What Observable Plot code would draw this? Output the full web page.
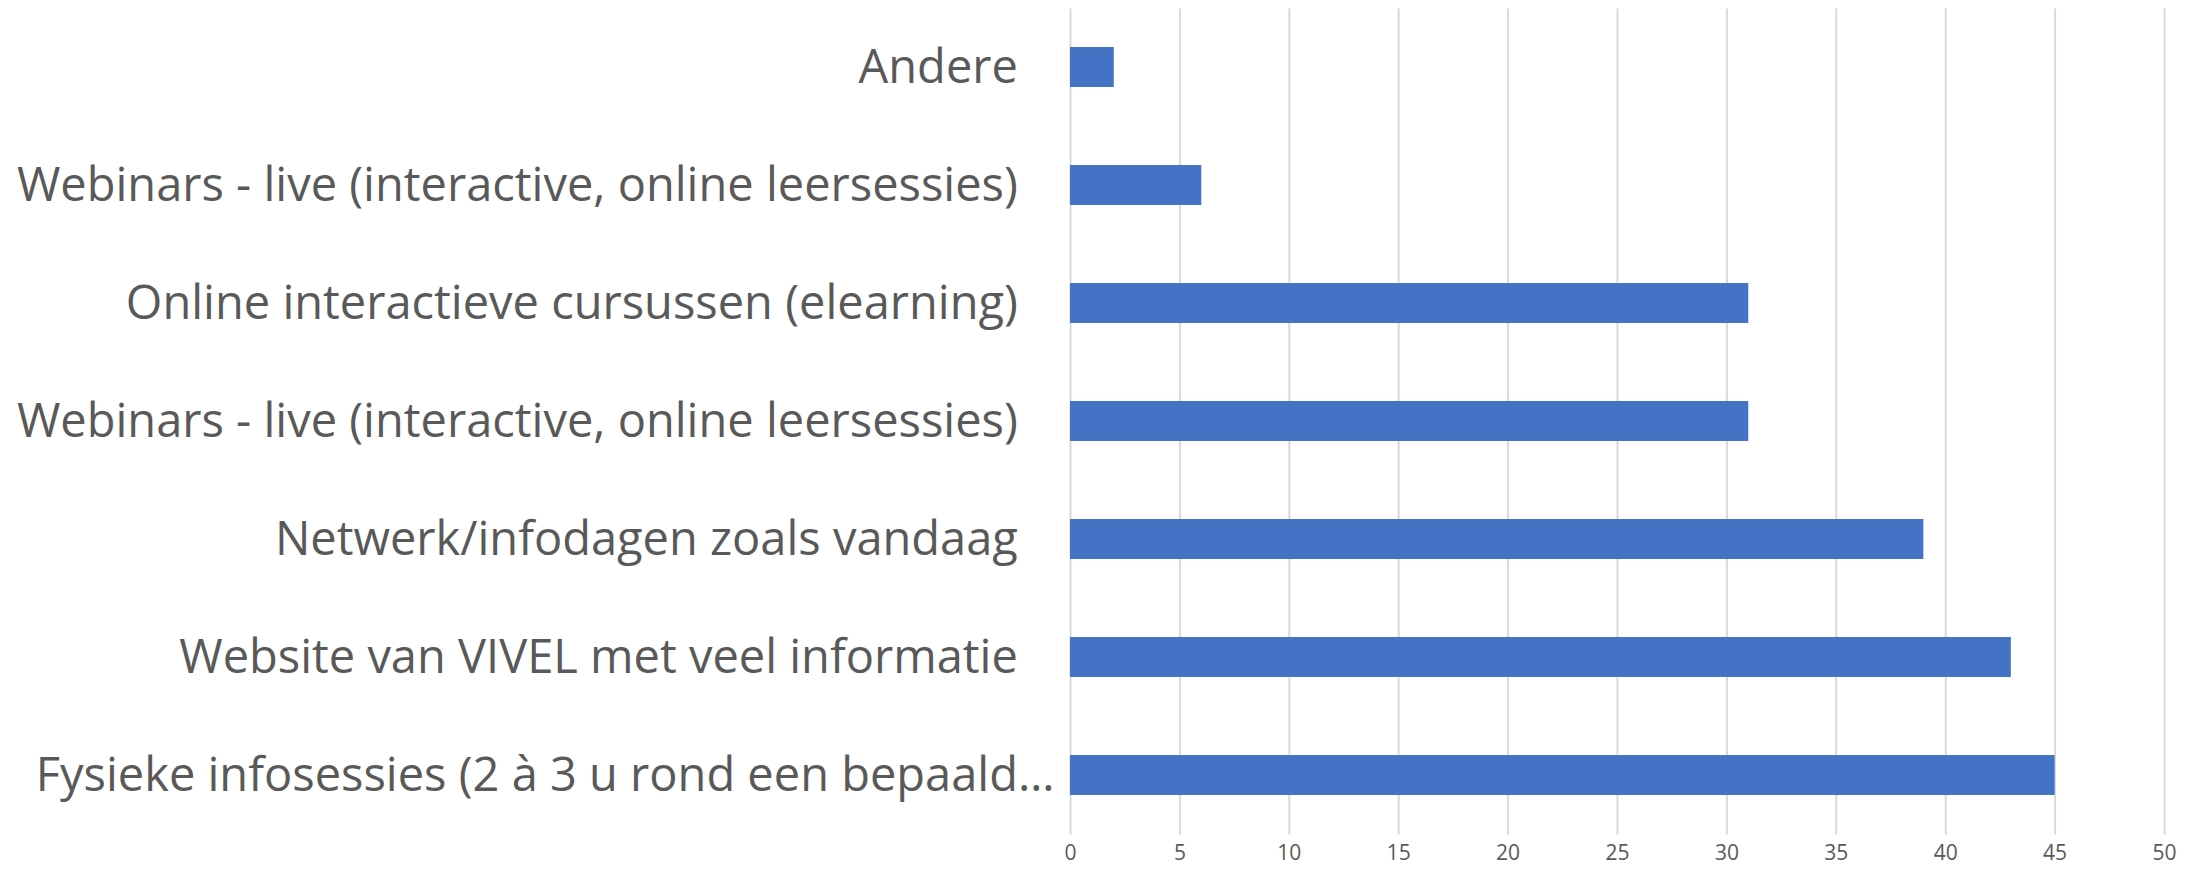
<!DOCTYPE html>
<html><head><meta charset="utf-8">
<script src="https://cdn.jsdelivr.net/npm/d3@7"></script>
<script src="https://cdn.jsdelivr.net/npm/@observablehq/plot@0.6"></script>
<style>body{margin:0;background:#fff}</style>
</head><body><div id="chart"></div>
<script>
const categories = [
  "Andere",
  "Webinars - live (interactive, online leersessies)",
  "Online interactieve cursussen (elearning)",
  "Webinars - live (interactive, online leersessies)",
  "Netwerk/infodagen zoals vandaag",
  "Website van VIVEL met veel informatie",
  "Fysieke infosessies (2 à 3 u rond een bepaald…"
];
const values = [2, 6, 31, 31, 39, 43, 45];
const xTicks = [0, 5, 10, 15, 20, 25, 30, 35, 40, 45, 50];

const data = categories.map((label, i) => ({i, label, value: values[i]}));

const chart = Plot.plot({
  width: 2203,
  height: 873,
  marginLeft: 1070,
  marginRight: 39,
  marginTop: 8.5,
  marginBottom: 38.5,
  style: {fontFamily: "'Open Sans', sans-serif", color: "#595959", background: "#fff"},
  x: {domain: [0, 50]},
  y: {domain: d3.range(categories.length), paddingInner: 0.66, paddingOuter: 0.33},
  marks: [
    Plot.gridX(xTicks, {stroke: "#d9d9d9", strokeOpacity: 1, strokeWidth: 2}),
    Plot.barX(data, {x: "value", y: "i", fill: "#4472c4"}),
    Plot.axisX({ticks: xTicks, tickSize: 0, tickPadding: 10, fontSize: 21, label: null}),
    Plot.axisY({
      tickSize: 0, tickPadding: 16, fontSize: 47, label: null,
      tickFormat: i => categories[i].endsWith("…") ? categories[i] : categories[i] + "\u00a0\u00a0\u00a0"
    })
  ]
});
document.getElementById("chart").appendChild(chart);
</script>
</body></html>
